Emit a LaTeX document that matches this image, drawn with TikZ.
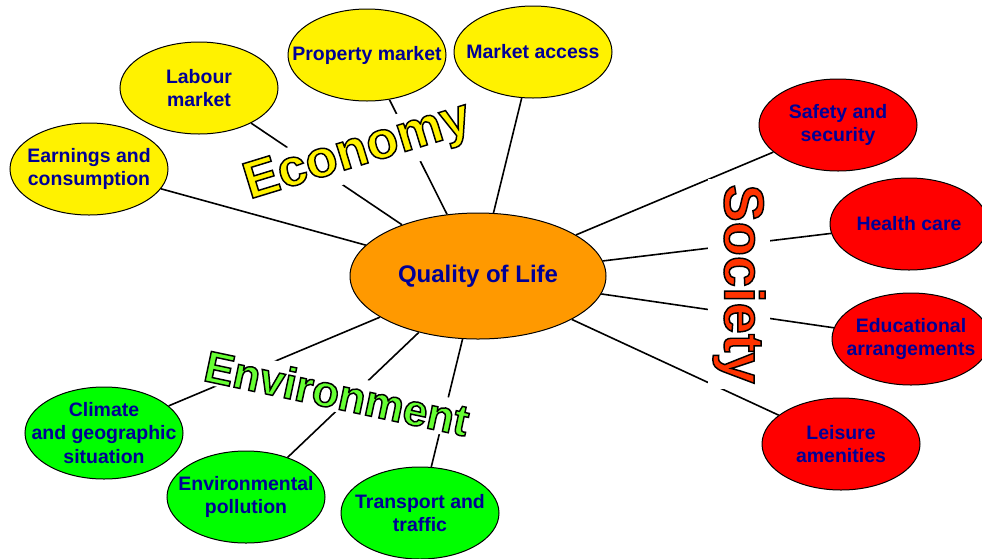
\documentclass[tikz,border=0pt]{standalone}
\usepackage{fontspec}
\setmainfont{Liberation Sans}
\usetikzlibrary{shapes.geometric,backgrounds}
\definecolor{txtblue}{RGB}{0,0,150}
\definecolor{qolorange}{RGB}{255,153,0}
\definecolor{socred}{RGB}{255,51,0}
\definecolor{envgreen}{RGB}{102,255,51}
% filled letters with a black outline
\newcommand\outlined[2]{{\color{#1}\special{pdf:literal direct 0 0 0 RG 1.1 w 2 Tr}#2\special{pdf:literal direct 0 Tr}}}
\tikzset{
  topic/.style={ellipse, draw, line width=0.75pt, minimum width=118.5pt, minimum height=69pt, inner sep=0pt},
  topictext/.style={text=txtblue, font=\fontsize{14.6}{17.3}\selectfont\bfseries, align=center},
  wordart/.style={fill=white, inner sep=2pt},
  link/.style={line width=1.2pt},
}
\begin{document}
\begin{tikzpicture}[x=0.75pt, y=-0.75pt]
  \useasboundingbox (0,0) rectangle (982,558);
  % centre
  \node (qol) [topic, fill=qolorange, minimum width=192pt, minimum height=94.5pt,
    label={[topictext, font=\fontsize{18}{21}\selectfont\bfseries]center:Quality of Life}] at (478,276) {};
  % economy
  \node (earn) [topic, fill=yellow, label={[topictext]center:Earnings and\\consumption}] at (89,169) {};
  \node (labour) [topic, fill=yellow, label={[topictext]center:Labour\\market}] at (199,88) {};
  \node (prop) [topic, fill=yellow, label={[topictext]center:Property market}] at (367,55) {};
  \node (access) [topic, fill=yellow, label={[topictext]center:Market access}] at (533,52) {};
  % society
  \node (safety) [topic, fill=red, label={[topictext]center:Safety and\\security}] at (838,125) {};
  \node (health) [topic, fill=red, label={[topictext]center:Health care}] at (909,224) {};
  \node (edu) [topic, fill=red, label={[topictext]center:Educational\\arrangements}] at (911,339) {};
  \node (leisure) [topic, fill=red, label={[topictext]center:Leisure\\amenities}] at (841,444) {};
  % environment
  \node (climate) [topic, fill=green, label={[topictext]center:Climate\\and geographic\\situation}] at (104,433) {};
  \node (pollution) [topic, fill=green, label={[topictext]center:Environmental\\pollution}] at (246,497) {};
  \node (transport) [topic, fill=green, label={[topictext]center:Transport and\\traffic}] at (420,513) {};
  \begin{scope}[on background layer]
    \foreach \t in {earn,labour,prop,access,safety,health,edu,leisure,climate,pollution,transport}
      \draw[link] (qol) -- (\t);
    \node (econ) [wordart, rotate=17, font=\fontsize{39}{39}\selectfont\bfseries]
      at (358,153) {\outlined{yellow}{Economy}};
    \node (soc) [wordart, rotate=-90, inner sep=4pt, font=\fontsize{42}{42}\selectfont\bfseries]
      at (739,284) {\outlined{socred}{Society}};
    \node (env) [wordart, rotate=-12, font=\fontsize{33}{33}\selectfont\bfseries]
      at (337,393) {\outlined{envgreen}{Environment}};
  \end{scope}
\end{tikzpicture}
\end{document}
